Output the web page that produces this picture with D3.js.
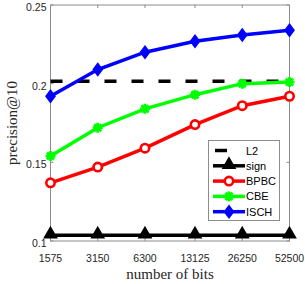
<!DOCTYPE html>
<html>
<head>
<meta charset="utf-8">
<script src="https://cdn.jsdelivr.net/npm/d3@7"></script>
<style>
  body { margin: 0; background: #fff; }
</style>
</head>
<body>
<script>
// data
var bits = [1575, 3150, 6300, 13125, 26250, 52500];
var l2 = [0.2015, 0.2015, 0.2015, 0.2015, 0.2015, 0.2015];
var sign = [0.1036, 0.1036, 0.1036, 0.1036, 0.1036, 0.1036];
var bpbc = [0.137, 0.147, 0.159, 0.174, 0.186, 0.192];
var cbe = [0.154, 0.172, 0.184, 0.193, 0.200, 0.201];
var isch = [0.192, 0.209, 0.220, 0.227, 0.231, 0.234];
var yTicks = [0.1, 0.15, 0.2, 0.25];
var yTickLabels = ["0.1", "0.15", "0.2", "0.25"];
var seriesNames = ["L2", "sign", "BPBC", "CBE", "ISCH"];

var W = 305, H = 284;
var pLeft = 50.5, pRight = 289.5, pTop = 5, pBottom = 241;

var svg = d3.select("body").append("svg")
    .attr("width", W)
    .attr("height", H);

var x = d3.scaleLog().domain([1575, 52500]).range([pLeft, pRight]);
var y = d3.scaleLinear().domain([0.1, 0.25]).range([pBottom, pTop]);

var frameColor = "#8c8c8c";
var textColor = "#262626";

// axes box
svg.append("rect")
    .attr("x", pLeft).attr("y", pTop)
    .attr("width", pRight - pLeft).attr("height", pBottom - pTop)
    .attr("fill", "white")
    .attr("stroke", frameColor)
    .attr("stroke-width", 1);

// ticks pointing inward on all four sides
var tl = 3;
yTicks.forEach(function(t) {
    svg.append("line").attr("x1", pLeft).attr("x2", pLeft + tl)
        .attr("y1", y(t)).attr("y2", y(t)).attr("stroke", frameColor);
    svg.append("line").attr("x1", pRight).attr("x2", pRight - tl)
        .attr("y1", y(t)).attr("y2", y(t)).attr("stroke", frameColor);
});
bits.forEach(function(b) {
    svg.append("line").attr("x1", x(b)).attr("x2", x(b))
        .attr("y1", pBottom).attr("y2", pBottom - tl).attr("stroke", frameColor);
    svg.append("line").attr("x1", x(b)).attr("x2", x(b))
        .attr("y1", pTop).attr("y2", pTop + tl).attr("stroke", frameColor);
});

// tick labels
svg.selectAll(".ylab")
    .data(yTicks)
    .enter()
    .append("text")
    .attr("x", pLeft - 4)
    .attr("y", function(d) { return y(d) + 6; })
    .attr("text-anchor", "end")
    .attr("font-family", "Liberation Sans, Arial, sans-serif")
    .attr("font-size", 10.5)
    .attr("fill", textColor)
    .text(function(d, i) { return yTickLabels[i]; });

svg.selectAll(".xlab")
    .data(bits)
    .enter()
    .append("text")
    .attr("x", function(d) { return x(d); })
    .attr("y", pBottom + 21)
    .attr("text-anchor", "middle")
    .attr("font-family", "Liberation Sans, Arial, sans-serif")
    .attr("font-size", 10.5)
    .attr("fill", textColor)
    .text(function(d) { return d; });

// axis titles
svg.append("text")
    .attr("x", (pLeft + pRight) / 2)
    .attr("y", 279)
    .attr("text-anchor", "middle")
    .attr("font-family", "Liberation Serif, Times New Roman, serif")
    .attr("font-size", 15)
    .attr("fill", textColor)
    .text("number of bits");

svg.append("text")
    .attr("transform", "translate(17," + ((pTop + pBottom) / 2) + ") rotate(-90)")
    .attr("text-anchor", "middle")
    .attr("font-family", "Liberation Serif, Times New Roman, serif")
    .attr("font-size", 15)
    .attr("fill", textColor)
    .text("precision@10");

// marker drawing helpers
function marker(g, kind, color, cx, cy) {
    if (kind === "triangle") {
        g.append("path")
            .attr("d", d3.symbol(d3.symbolTriangle, 64)())
            .attr("transform", "translate(" + cx + "," + (cy - 1) + ")")
            .attr("fill", color).attr("stroke", color).attr("stroke-width", 1.5);
    } else if (kind === "circle") {
        g.append("circle")
            .attr("cx", cx).attr("cy", cy).attr("r", 4.2)
            .attr("fill", "white").attr("stroke", color).attr("stroke-width", 2.6);
    } else if (kind === "star") {
        var r = 5, p = "";
        for (var k = 0; k < 4; k++) {
            var a = k * Math.PI / 4;
            p += "M" + (-r * Math.cos(a)) + "," + (-r * Math.sin(a)) +
                 "L" + (r * Math.cos(a)) + "," + (r * Math.sin(a));
        }
        g.append("path")
            .attr("d", p)
            .attr("transform", "translate(" + cx + "," + cy + ")")
            .attr("fill", "none").attr("stroke", color).attr("stroke-width", 2.8);
    } else if (kind === "diamond") {
        g.append("path")
            .attr("d", "M0,-6L4.5,0L0,6L-4.5,0Z")
            .attr("transform", "translate(" + cx + "," + cy + ")")
            .attr("fill", color).attr("stroke", color).attr("stroke-width", 1.5);
    }
}

var series = [
    { name: seriesNames[0], vals: l2, color: "black", dash: "12,15", marker: null },
    { name: seriesNames[1], vals: sign, color: "black", dash: null, marker: "triangle" },
    { name: seriesNames[2], vals: bpbc, color: "#ff0000", dash: null, marker: "circle" },
    { name: seriesNames[3], vals: cbe, color: "#00ff00", dash: null, marker: "star" },
    { name: seriesNames[4], vals: isch, color: "#0000ff", dash: null, marker: "diamond" }
];

var line = d3.line()
    .x(function(d, i) { return x(bits[i]); })
    .y(function(d) { return y(d); });

series.forEach(function(s) {
    var g = svg.append("g");
    g.append("path")
        .attr("d", line(s.vals))
        .attr("fill", "none")
        .attr("stroke", s.color)
        .attr("stroke-width", 3.5)
        .attr("stroke-dasharray", s.dash);
    if (s.marker) {
        s.vals.forEach(function(v, i) {
            marker(g, s.marker, s.color, x(bits[i]), y(v));
        });
    }
});

// legend
var lg = svg.append("g");
lg.append("rect")
    .attr("x", 208.5).attr("y", 140.5)
    .attr("width", 71).attr("height", 80)
    .attr("fill", "white")
    .attr("stroke", frameColor)
    .attr("stroke-width", 1);

series.forEach(function(s, i) {
    var ly = 150.5 + i * 15.3;
    if (s.marker) {
        lg.append("line")
            .attr("x1", 213).attr("x2", 245)
            .attr("y1", ly).attr("y2", ly)
            .attr("stroke", s.color)
            .attr("stroke-width", 3.5);
        marker(lg, s.marker, s.color, 229, ly);
    } else {
        lg.append("line")
            .attr("x1", 215).attr("x2", 227)
            .attr("y1", ly).attr("y2", ly)
            .attr("stroke", s.color)
            .attr("stroke-width", 3.5);
    }
    lg.append("text")
        .attr("x", 246)
        .attr("y", ly + 4)
        .attr("font-family", "Liberation Sans, Arial, sans-serif")
        .attr("font-size", 11)
        .attr("fill", "black")
        .text(s.name);
});
</script>
</body>
</html>
